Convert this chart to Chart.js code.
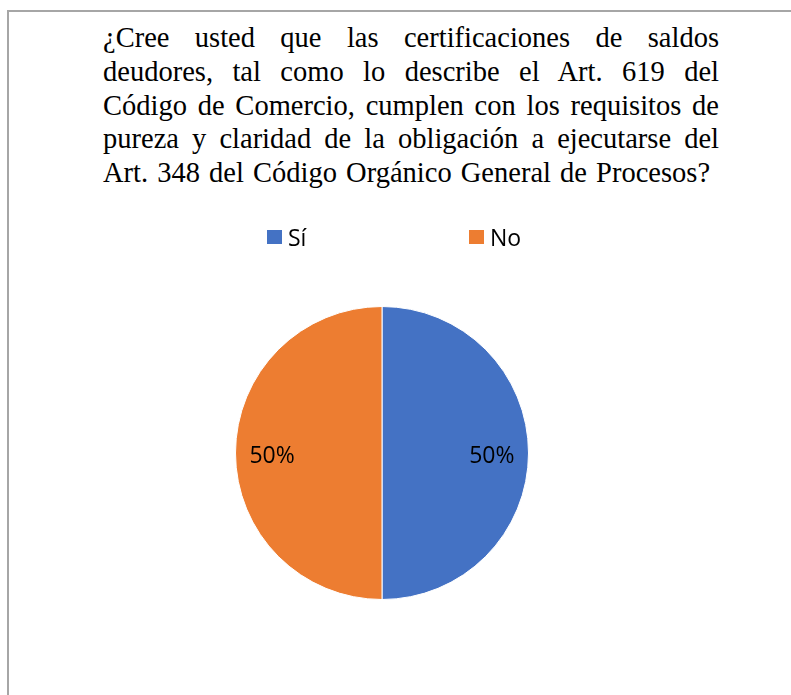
<!DOCTYPE html>
<html>
<head>
<meta charset="utf-8">
<script src="https://cdn.jsdelivr.net/npm/chart.js@4.4.0/dist/chart.umd.min.js"></script>
<style>
  html, body { margin: 0; padding: 0; background: #fff; }
  #frame {
    position: absolute; left: 7px; top: 10px; width: 790px; height: 700px;
    border-top: 2px solid #a6a6a6; border-left: 2px solid #a6a6a6;
  }
  #title {
    position: absolute; left: 103px; top: 21px; width: 616px;
    font-family: "Liberation Serif", "Times New Roman", serif;
    font-size: 28.5px; line-height: 33.8px; color: #000;
  }
  #title div { white-space: nowrap; }
  #title .j { text-align: justify; text-align-last: justify; }
  #title .l { text-align: left; word-spacing: 2px; }
  #wrap { position: absolute; left: 0; top: 0; width: 791px; height: 695px; }
</style>
</head>
<body>
<div id="frame"></div>
<div id="title">
  <div class="j">¿Cree usted que las certificaciones de saldos</div>
  <div class="j">deudores, tal como lo describe el Art. 619 del</div>
  <div class="j">Código de Comercio, cumplen con los requisitos de</div>
  <div class="j">pureza y claridad de la obligación a ejecutarse del</div>
  <div class="l">Art. 348 del Código Orgánico General de Procesos?</div>
</div>
<div id="wrap"><canvas id="chart"></canvas></div>
<script>
const labels = ['Sí', 'No'];
const values = [50, 50];
const colors = ['#4472C4', '#ED7D31'];

const font = '23px "Open Sans", "Noto Sans", sans-serif';

// legend drawn like the Excel one: two items spread wide above the pie
const legendPlugin = {
  id: 'wideLegend',
  afterDraw(chart) {
    const ctx = chart.ctx;
    const cx = (chart.chartArea.left + chart.chartArea.right) / 2;
    const offsets = [-115, 87];
    ctx.save();
    ctx.font = font;
    ctx.textBaseline = 'alphabetic';
    ctx.textAlign = 'left';
    chart.data.labels.forEach((label, i) => {
      const x = cx + offsets[i];
      ctx.fillStyle = chart.data.datasets[0].backgroundColor[i];
      ctx.fillRect(x, 230, 15, 14);
      ctx.fillStyle = '#000';
      ctx.fillText(label, x + 21, 246);
    });
    ctx.restore();
  }
};

// percentage labels inside the slices
const pctPlugin = {
  id: 'pctLabels',
  afterDatasetsDraw(chart) {
    const ctx = chart.ctx;
    const meta = chart.getDatasetMeta(0);
    const data = chart.data.datasets[0].data;
    const total = data.reduce((a, b) => a + b, 0);
    ctx.save();
    ctx.font = font;
    ctx.fillStyle = '#000';
    ctx.textAlign = 'center';
    ctx.textBaseline = 'middle';
    meta.data.forEach((arc, i) => {
      const mid = (arc.startAngle + arc.endAngle) / 2;
      const r = arc.outerRadius * 0.75;
      const x = arc.x + Math.cos(mid) * r;
      const y = arc.y + Math.sin(mid) * r + 3;
      ctx.fillText(Math.round(data[i] / total * 100) + '%', x, y);
    });
    ctx.restore();
  }
};

new Chart(document.getElementById('chart'), {
  type: 'pie',
  data: {
    labels: labels,
    datasets: [{
      data: values,
      backgroundColor: colors,
      borderColor: '#ffffff',
      borderWidth: 1
    }]
  },
  options: {
    responsive: true,
    maintainAspectRatio: false,
    animation: false,
    layout: { padding: { left: 235, right: 262, top: 306, bottom: 95 } },
    plugins: {
      legend: { display: false },
      tooltip: { enabled: false }
    }
  },
  plugins: [legendPlugin, pctPlugin]
});
</script>
</body>
</html>
